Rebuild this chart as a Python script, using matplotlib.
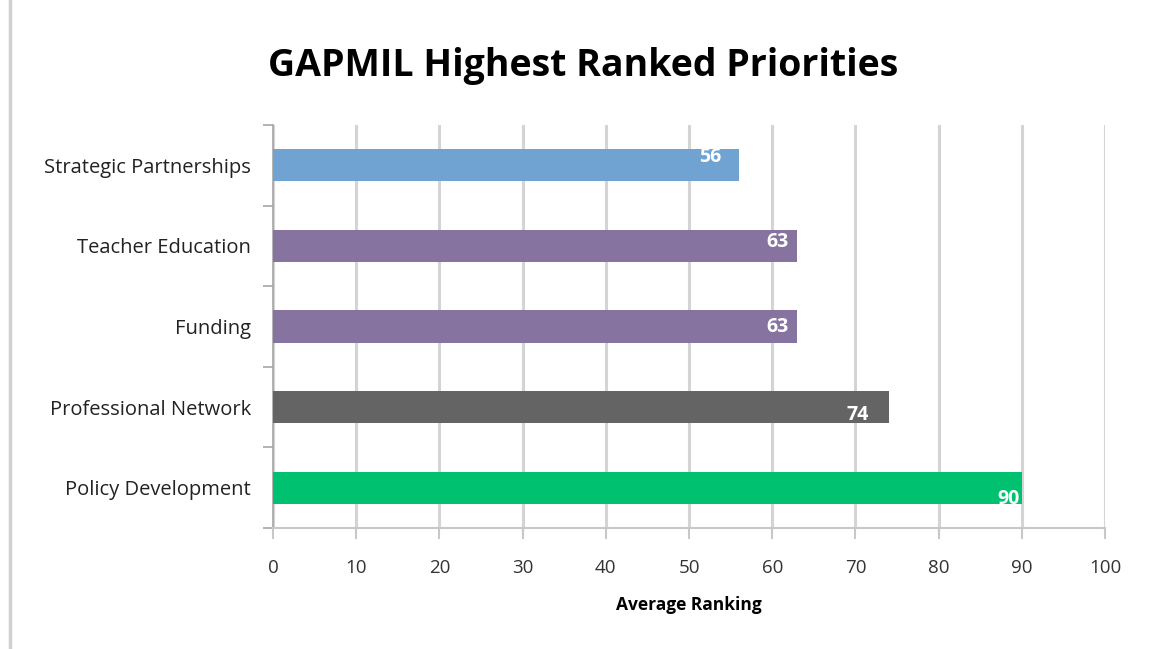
import matplotlib
matplotlib.use("Agg")
import matplotlib.pyplot as plt
from matplotlib.lines import Line2D

plt.rcParams["font.family"] = ["Open Sans", "DejaVu Sans"]

categories = ["Policy Development", "Professional Network", "Funding",
              "Teacher Education", "Strategic Partnerships"]
values = [90, 74, 63, 63, 56]
colors = ["#00c170", "#646464", "#8773a0", "#8773a0", "#70a3d1"]
# label x-offset (in data units) and vertical offset (in category units)
label_dx = [-1.6, -3.7, -2.4, -2.4, -3.5]
label_dy = [-0.14, -0.1, 0.0, 0.05, 0.1]

fig = plt.figure(figsize=(11.5, 6.49), dpi=100)
ax = fig.add_axes([0.2374, 0.1864, 0.7235, 0.621])

y = range(len(categories))
ax.barh(list(y), values, height=0.4, color=colors, zorder=3)

for i, v in enumerate(values):
    ax.text(v + label_dx[i], i + label_dy[i], str(v), color="white",
            fontsize=14, fontweight="bold", ha="center", va="center", zorder=4)

ax.set_xlim(0, 100)
ax.set_ylim(-0.5, len(categories) - 0.5)
ax.set_xticks(range(0, 101, 10))
ax.set_yticks(list(y))
ax.set_yticklabels(categories, fontsize=14.5, color="#222222")
ax.set_yticks([i - 0.5 for i in range(len(categories) + 1)], minor=True)
ax.tick_params(axis="y", which="major", length=0, pad=16)
ax.tick_params(axis="y", which="minor", length=7, color="#a6a6a6", width=1.2)
ax.tick_params(axis="x", length=8, color="#c8c8c8", width=1.5,
               labelsize=13.5, labelcolor="#333333", pad=14)

ax.grid(axis="x", color="#d4d4d4", lw=2.2, zorder=0)
for s in ["top", "right"]:
    ax.spines[s].set_visible(False)
ax.spines["left"].set_color("#a6a6a6")
ax.spines["left"].set_linewidth(1.2)
ax.spines["bottom"].set_color("#c8c8c8")
ax.spines["bottom"].set_linewidth(1.5)

ax.set_xlabel("Average Ranking", fontsize=12.5, fontweight="bold", labelpad=14)
fig.text(0.507, 0.899, "GAPMIL Highest Ranked Priorities", fontsize=27,
         fontweight="bold", ha="center", va="center", color="black")

# page edge line at the far left
fig.add_artist(Line2D([0.009, 0.009], [0.0, 1.0], color="#d0d0d0", lw=2.5,
                      transform=fig.transFigure))

fig.savefig("out.png", dpi=100)
